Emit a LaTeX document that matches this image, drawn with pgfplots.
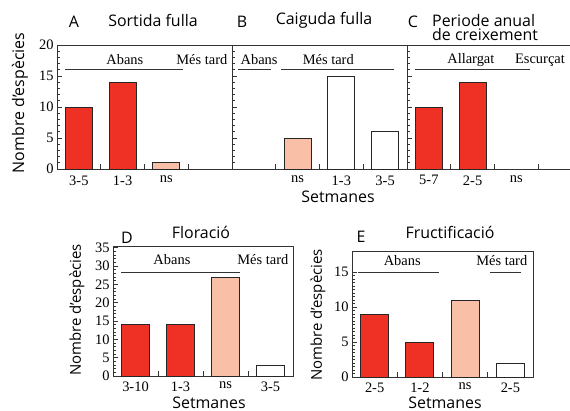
\documentclass[border=0pt]{standalone}
\usepackage{fontspec}
\setmainfont{Liberation Serif}
\newfontfamily\sansf{Open Sans}
\usepackage{pgfplots}
\pgfplotsset{compat=1.18}

\definecolor{barred}{RGB}{238,49,36}
\definecolor{barpink}{RGB}{250,192,167}

\pgfplotsset{
  panel/.style={scale only axis, anchor=south west,
    ymin=0, xmin=-0.5, xmax=3.5,
    tick align=inside, xtick pos=bottom, ytick pos=left,
    major tick length=5bp, minor tick length=3bp,
    minor y tick num=4,
    xtick={0.5,1.5,2.5,3.5},
    axis line style={line width=0.9bp, black!80},
    tick style={line width=0.7bp, black!80},
    tick label style={font=\fontsize{14.5}{15}\selectfont},
    /pgf/number format/assume math mode=true,
    clip=false},
  bars/.style={ybar, bar width=0.62, draw=black!85, line width=1bp},
}
\tikzset{
  note/.style={font=\fontsize{14.5}{15}\selectfont, inner sep=0pt},
  rule/.style={line width=0.9bp, black!80},
  ttl/.style={font=\sansf\fontsize{16}{15}\selectfont, inner sep=0pt},
}

\begin{document}
\begin{tikzpicture}
\useasboundingbox (0,0) rectangle (570bp,-411bp);

% ---- A: Sortida fulla
\begin{axis}[panel, at={(57bp,-169bp)}, width=175bp, height=124bp,
  ymax=20, ytick={0,5,...,20},
  xticklabels={3-5,1-3,ns,{}}, xticklabel style={xshift=-21.9bp, yshift=-3bp}]
  \addplot[bars, fill=barred] coordinates {(0,10) (1,14)};
  \addplot[bars, fill=barpink] coordinates {(2,1)};
  \draw[rule] (axis cs:-0.32,16) -- (axis cs:2.38,16);
  \node[note] at (axis cs:1.05,17.6) {Abans};
  \node[note] at (axis cs:2.81,17.6) {Més tard};
\end{axis}

% ---- B: Caiguda fulla
\begin{axis}[panel, at={(232bp,-169bp)}, width=175bp, height=124bp,
  ymax=20, ytick={0,5,...,20}, yticklabels={},
  xticklabels={{},ns,1-3,3-5}, xticklabel style={xshift=-21.9bp, yshift=-3bp}]
  \addplot[bars, fill=barpink] coordinates {(1,5)};
  \addplot[bars, fill=white] coordinates {(2,15) (3,6)};
  \draw[rule] (axis cs:-0.36,16) -- (axis cs:0.39,16);
  \draw[rule] (axis cs:0.62,16) -- (axis cs:3.2,16);
  \node[note] at (axis cs:0.12,17.6) {Abans};
  \node[note] at (axis cs:1.70,17.6) {Més tard};
\end{axis}

% ---- C: Periode anual de creixement
\begin{axis}[panel, at={(407bp,-169bp)}, width=175bp, height=124bp,
  ymax=20, ytick={0,5,...,20}, yticklabels={},
  xticklabels={5-7,2-5,ns,{}}, xticklabel style={xshift=-21.9bp, yshift=-3bp}]
  \addplot[bars, fill=barred] coordinates {(0,10) (1,14)};
  \draw[rule] (axis cs:-0.32,16) -- (axis cs:2.31,16);
  \node[note] at (axis cs:0.96,17.6) {Allargat};
  \node[note] at (axis cs:2.54,17.6) {Escurçat};
\end{axis}

% ---- D: Floració
\begin{axis}[panel, at={(113bp,-376bp)}, width=180bp, height=130bp,
  ymax=35.5, ytick={0,5,...,35},
  xticklabels={3-10,1-3,ns,3-5}, xticklabel style={xshift=-22.5bp, yshift=-2bp}]
  \addplot[bars, fill=barred] coordinates {(0,14) (1,14)};
  \addplot[bars, fill=barpink] coordinates {(2,27)};
  \addplot[bars, fill=white] coordinates {(3,3)};
  \draw[rule] (axis cs:-0.32,28.4) -- (axis cs:2.32,28.4);
  \node[note] at (axis cs:0.81,31.7) {Abans};
  \node[note] at (axis cs:2.83,31.7) {Més tard};
\end{axis}

% ---- E: Fructificació
\begin{axis}[panel, at={(352bp,-377bp)}, width=181bp, height=126bp,
  ymax=18, ytick={0,5,10,15}, minor y tick num=9,
  xticklabels={2-5,1-2,ns,2-5}, xticklabel style={xshift=-22.6bp, yshift=-2bp}]
  \addplot[bars, fill=barred] coordinates {(0,9) (1,5)};
  \addplot[bars, fill=barpink] coordinates {(2,11)};
  \addplot[bars, fill=white] coordinates {(3,2)};
  \draw[rule] (axis cs:-0.37,14.9) -- (axis cs:1.42,14.9);
  \draw[rule] (axis cs:2.55,14.9) -- (axis cs:3.23,14.9);
  \node[note] at (axis cs:0.61,16.7) {Abans};
  \node[note] at (axis cs:2.81,16.7) {Més tard};
\end{axis}

% ---- titles and axis labels
\node[ttl] at (74bp,-22bp) {A};
\node[ttl] at (153bp,-20bp) {Sortida fulla};
\node[ttl] at (242bp,-22bp) {B};
\node[ttl] at (324bp,-20bp) {Caiguda fulla};
\node[ttl] at (413bp,-22bp) {C};
\node[ttl, anchor=west, align=left] at (432bp,-27.5bp) {Periode anual\\de creixement};
\node[ttl] at (127bp,-238bp) {D};
\node[ttl] at (201bp,-232bp) {Floració};
\node[ttl] at (361bp,-237bp) {E};
\node[ttl] at (450bp,-232bp) {Fructificació};

\node[ttl, rotate=90] at (20bp,-103bp) {Nombre d’espècies};
\node[ttl, rotate=90, font=\sansf\fontsize{15}{15}\selectfont] at (77bp,-310bp) {Nombre d’espècies};
\node[ttl, rotate=90, font=\sansf\fontsize{15}{15}\selectfont] at (318bp,-315bp) {Nombre d’espècies};

\node[ttl] at (338bp,-197bp) {Setmanes};
\node[ttl, anchor=base] at (209bp,-408bp) {Setmanes};
\node[ttl, anchor=base] at (445bp,-408bp) {Setmanes};
\end{tikzpicture}
\end{document}
